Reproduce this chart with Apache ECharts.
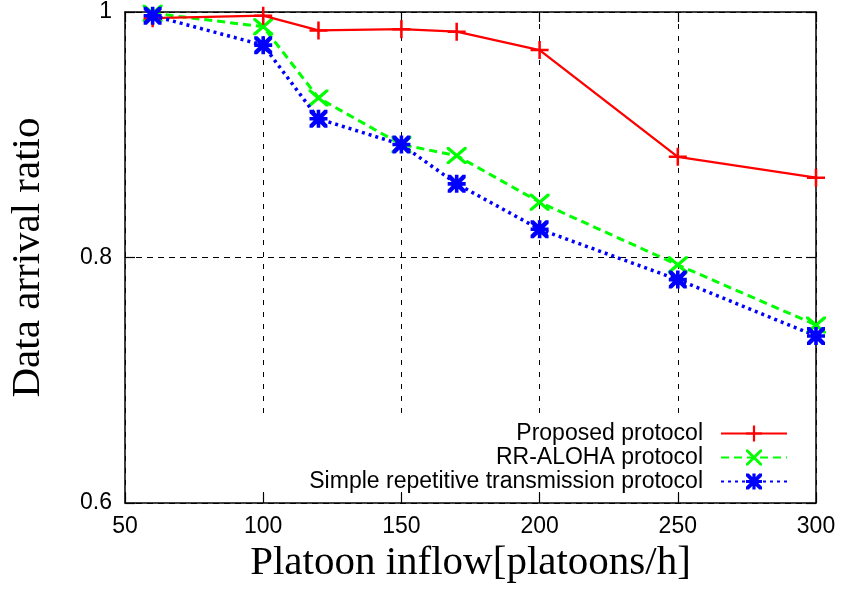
<!DOCTYPE html>
<html>
<head>
<meta charset="utf-8">
<script src="https://cdn.jsdelivr.net/npm/echarts@6/dist/echarts.min.js"></script>
<style>html,body{margin:0;padding:0;background:#fff}#c{width:841px;height:590px}</style>
</head>
<body>
<div id="c"></div>
<script>
var xValues = [60, 100, 120, 150, 170, 200, 250, 300];
var proposed = [0.995, 0.997, 0.985, 0.986, 0.984, 0.969, 0.882, 0.865];
var rrAloha = [0.999, 0.988, 0.930, 0.892, 0.883, 0.845, 0.794, 0.745];
var simpleRep = [0.997, 0.973, 0.913, 0.892, 0.860, 0.823, 0.782, 0.736];
var seriesNames = ['Proposed protocol', 'RR-ALOHA protocol', 'Simple repetitive transmission protocol'];
var xTitle = 'Platoon inflow[platoons/h]';
var yTitle = 'Data arrival ratio';

function pairs(vals) { return xValues.map(function (x, i) { return [x, vals[i]]; }); }

var plusPath = 'path://M8.6,0 h2.8 v8.6 h8.6 v2.8 h-8.6 v8.6 h-2.8 v-8.6 h-8.6 v-2.8 h8.6 z';
var crossPath = 'path://M0,0 L2.5,0 L10,7.5 L17.5,0 L20,0 L20,2.5 L12.5,10 L20,17.5 L20,20 L17.5,20 L10,12.5 L2.5,20 L0,20 L0,17.5 L7.5,10 L0,2.5 Z';
var starPath = 'path://M8,0 h4 v8 h8 v4 h-8 v8 h-4 v-8 h-8 v-4 h8 z M0,0 L3.5,0 L10,6.5 L16.5,0 L20,0 L20,3.5 L13.5,10 L20,16.5 L20,20 L16.5,20 L10,13.5 L3.5,20 L0,20 L0,16.5 L6.5,10 L0,3.5 Z';

var font = 'Liberation Sans, Arial, sans-serif';
var serif = 'Liberation Serif, Times New Roman, serif';

function legendFor(name, top) {
  return {
    data: [name], right: 53, top: top, orient: 'vertical', align: 'right',
    itemWidth: 66, itemHeight: 20, padding: 0,
    textStyle: { fontFamily: font, fontSize: 23, color: '#000', padding: [0, 13, 0, 0] },
    selectedMode: false
  };
}

var chart = echarts.init(document.getElementById('c'), null, { renderer: 'canvas' });
chart.setOption({
  animation: false,
  backgroundColor: '#fff',
  grid: { left: 123, right: 25, top: 12, bottom: 87, containLabel: false },
  graphic: [{ type: 'rect', z: 1, shape: { x: 240, y: 419, width: 570, height: 73 }, style: { fill: '#fff' } }],
  legend: [legendFor(seriesNames[0], 422), legendFor(seriesNames[1], 446), legendFor(seriesNames[2], 470)],
  xAxis: [{
    type: 'value', min: 50, max: 300, interval: 50, position: 'bottom',
    name: xTitle, nameLocation: 'middle', nameGap: 34,
    nameTextStyle: { fontFamily: serif, fontSize: 41, color: '#000' },
    axisLine: { onZero: false, lineStyle: { color: '#000', width: 1.5 } },
    axisTick: { inside: true, length: 10, lineStyle: { color: '#000', width: 1.2 } },
    axisLabel: { fontFamily: font, fontSize: 23, color: '#000', margin: 12 },
    splitLine: { show: true, lineStyle: { color: '#000', width: 1, type: [5, 7] } }
  }, {
    type: 'value', min: 50, max: 300, interval: 50, position: 'top',
    axisLine: { onZero: false, lineStyle: { color: '#000', width: 1.5 } },
    axisTick: { inside: true, length: 10, lineStyle: { color: '#000', width: 1.2 } },
    axisLabel: { show: false }, splitLine: { show: false }
  }],
  yAxis: [{
    type: 'value', min: 0.6, max: 1, interval: 0.2, position: 'left',
    name: yTitle, nameLocation: 'middle', nameGap: 76, nameRotate: 90,
    nameTextStyle: { fontFamily: serif, fontSize: 41, color: '#000' },
    axisLine: { onZero: false, lineStyle: { color: '#000', width: 1.5 } },
    axisTick: { inside: true, length: 10, lineStyle: { color: '#000', width: 1.2 } },
    axisLabel: { fontFamily: font, fontSize: 23, color: '#000', margin: 13 },
    splitLine: { show: true, lineStyle: { color: '#000', width: 1, type: [6, 5] } }
  }, {
    type: 'value', min: 0.6, max: 1, interval: 0.2, position: 'right',
    axisLine: { onZero: false, lineStyle: { color: '#000', width: 1.5 } },
    axisTick: { inside: true, length: 10, lineStyle: { color: '#000', width: 1.2 } },
    axisLabel: { show: false }, splitLine: { show: false }
  }],
  series: [{
    name: seriesNames[0], type: 'line', data: pairs(proposed), z: 4,
    symbol: plusPath, symbolSize: 18,
    itemStyle: { color: '#ff0000' },
    lineStyle: { color: '#ff0000', width: 2.3, type: 'solid' }
  }, {
    name: seriesNames[1], type: 'line', data: pairs(rrAloha), z: 3,
    symbol: crossPath, symbolSize: [20, 17],
    itemStyle: { color: '#00ff00' },
    lineStyle: { color: '#00ff00', width: 3, type: [8, 5] }
  }, {
    name: seriesNames[2], type: 'line', data: pairs(simpleRep), z: 5,
    symbol: starPath, symbolSize: 18,
    itemStyle: { color: '#0000ff' },
    lineStyle: { color: '#0000ff', width: 3.5, type: [3, 4] }
  }]
});
</script>
</body>
</html>
